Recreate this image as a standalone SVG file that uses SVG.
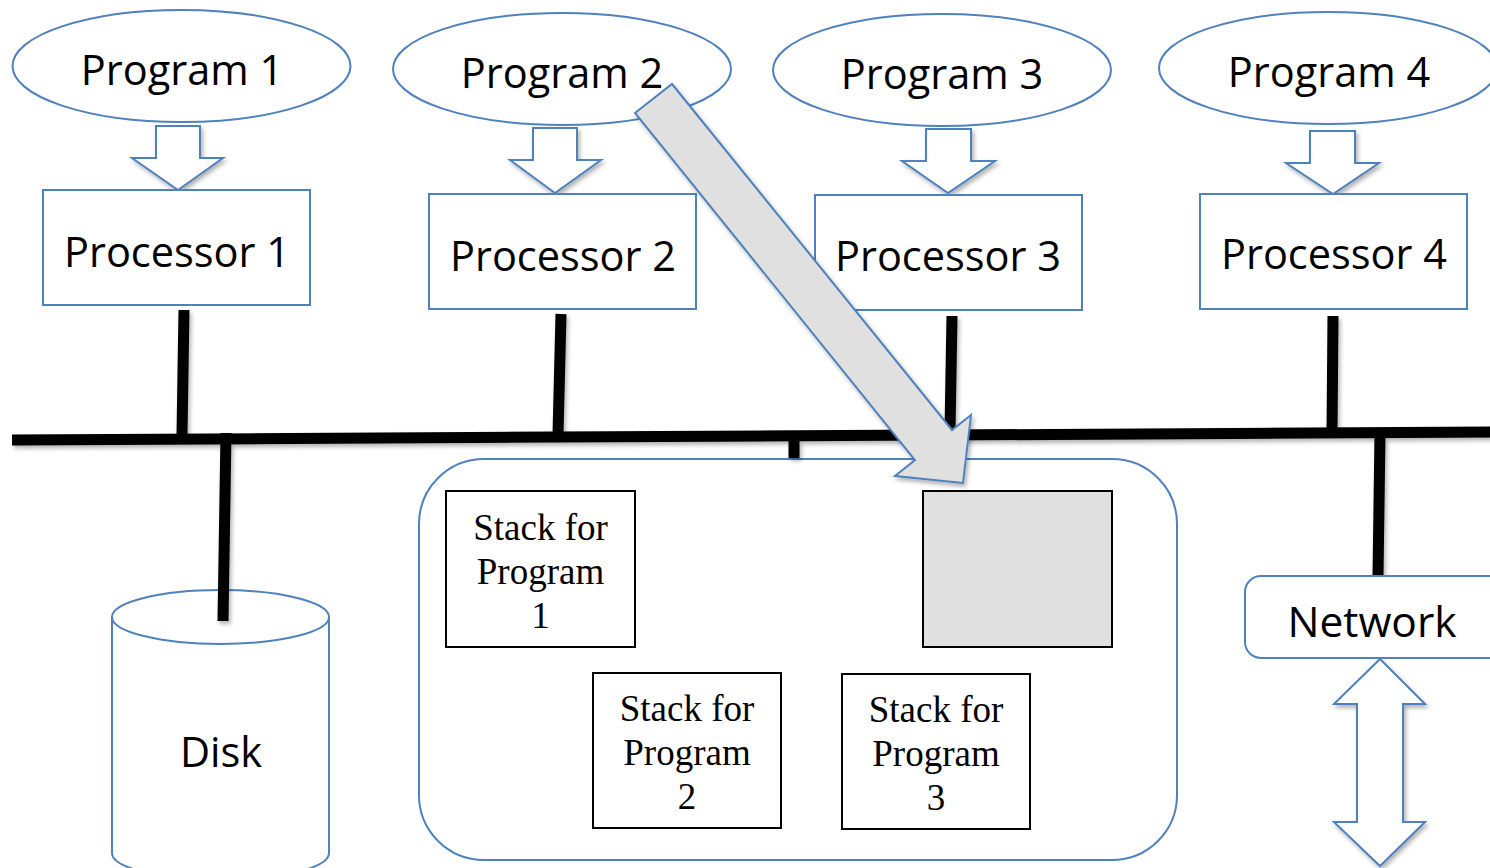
<svg xmlns="http://www.w3.org/2000/svg" width="1490" height="868" viewBox="0 0 1490 868">
<defs>
<filter id="sh" filterUnits="userSpaceOnUse" x="0" y="0" width="1490" height="868">
<feDropShadow dx="2" dy="3" stdDeviation="2" flood-color="#000" flood-opacity="0.3"/>
</filter>
<style>
.bl{fill:#fff;stroke:#4f81bd;stroke-width:2}
.sans{font-family:"Open Sans","Liberation Sans",sans-serif;font-size:41.5px;fill:#000;text-anchor:middle}
.serif{font-family:"Liberation Serif","Times New Roman",serif;font-size:37px;fill:#000;text-anchor:middle}
.stk{fill:#fff;stroke:#000;stroke-width:2}
.bus{stroke:#000;stroke-width:11;fill:none}
</style>
</defs>
<rect width="1490" height="868" fill="#fff"/>

<g id="memory">
<rect class="bl" x="419" y="459" width="758" height="401" rx="65" ry="65"/>
</g>

<g id="disk">
<path class="bl" d="M112,617 L112,853 A108.5,27 0 0 0 329,853 L329,617"/>
<ellipse class="bl" cx="220.5" cy="617" rx="108.5" ry="27"/>
<text class="sans" x="221" y="767">Disk</text>
</g>

<g id="connectors" filter="url(#sh)">
<line class="bus" x1="12" y1="440" x2="1495" y2="432"/>
<line class="bus" x1="184" y1="310" x2="182" y2="434"/>
<line class="bus" x1="561" y1="314" x2="558" y2="434"/>
<line class="bus" x1="952" y1="316" x2="950" y2="430"/>
<line class="bus" x1="1333" y1="316" x2="1332" y2="433"/>
<line class="bus" x1="226" y1="433" x2="223" y2="621"/>
<line class="bus" x1="794" y1="434" x2="794" y2="458"/>
<line class="bus" x1="1380" y1="434" x2="1378" y2="576"/>
<polygon class="bl" points="156,126 200,126 200,158 223,158 178,190 132,158 156,158"/>
<polygon class="bl" points="533,128 577,128 577,160 601,160 555,193 510,160 533,160"/>
<polygon class="bl" points="926,129 971,129 971,161 995,161 948,193 902,161 926,161"/>
<polygon class="bl" points="1310,131 1355,131 1355,163 1379,163 1333,194 1286,163 1310,163"/>
<polygon class="bl" points="1380,659 1425,704 1403,704 1403,822 1425,822 1380,866 1334,822 1357,822 1357,704 1334,704"/>
</g>

<g id="program1">
<ellipse class="bl" cx="181.5" cy="66" rx="169" ry="56"/>
<text class="sans" x="182" y="85">Program 1</text>
</g>
<g id="program2">
<ellipse class="bl" cx="562" cy="69" rx="169" ry="56"/>
<text class="sans" x="562" y="88">Program 2</text>
</g>
<g id="program3">
<ellipse class="bl" cx="942" cy="70" rx="169" ry="56"/>
<text class="sans" x="942" y="89">Program 3</text>
</g>
<g id="program4">
<ellipse class="bl" cx="1328" cy="68" rx="169" ry="56"/>
<text class="sans" x="1329" y="87">Program 4</text>
</g>

<g id="processor1">
<rect class="bl" x="43" y="190" width="267" height="115"/>
<text class="sans" x="177" y="267">Processor 1</text>
</g>
<g id="processor2">
<rect class="bl" x="429" y="194" width="267" height="115"/>
<text class="sans" x="563" y="271">Processor 2</text>
</g>
<g id="processor3">
<rect class="bl" x="815" y="195" width="267" height="115"/>
<text class="sans" x="948" y="271">Processor 3</text>
</g>
<g id="processor4">
<rect class="bl" x="1200" y="194" width="267" height="115"/>
<text class="sans" x="1334" y="269">Processor 4</text>
</g>

<g id="network">
<rect class="bl" x="1245" y="576" width="270" height="82" rx="16" ry="16"/>
<text class="sans" x="1372" y="637" style="font-size:42.5px">Network</text>
</g>

<g id="stack1">
<rect class="stk" x="446" y="491" width="189" height="156"/>
<text class="serif" x="540.5" y="540">Stack for</text>
<text class="serif" x="540.5" y="584">Program</text>
<text class="serif" x="540.5" y="628">1</text>
</g>
<g id="stack2">
<rect class="stk" x="593" y="673" width="188" height="155"/>
<text class="serif" x="687" y="721">Stack for</text>
<text class="serif" x="687" y="765">Program</text>
<text class="serif" x="687" y="809">2</text>
</g>
<g id="stack3">
<rect class="stk" x="842" y="674" width="188" height="155"/>
<text class="serif" x="936" y="722">Stack for</text>
<text class="serif" x="936" y="766">Program</text>
<text class="serif" x="936" y="810">3</text>
</g>
<g id="stack-new">
<rect class="stk" x="923" y="491" width="189" height="156" style="fill:#e0e0e0"/>
</g>

<g id="big-arrow" filter="url(#sh)">
<polygon points="635,113 672,84 952,430 971,415 963,483 895,476 915,460" fill="#e0e0e0" stroke="#4f81bd" stroke-width="2" stroke-linejoin="miter"/>
</g>
</svg>
